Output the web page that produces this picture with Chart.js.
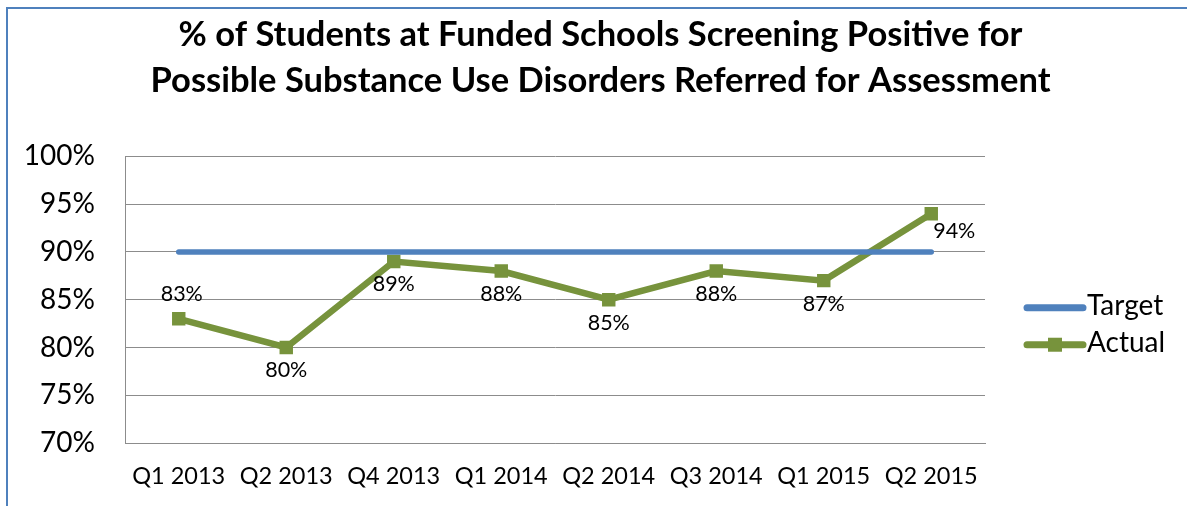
<!DOCTYPE html>
<html>
<head>
<meta charset="utf-8">
<script src="https://cdn.jsdelivr.net/npm/chart.js@4.4.1/dist/chart.umd.min.js"></script>
<style>
  html, body { margin: 0; padding: 0; background: #fff; overflow: hidden; }
  #frame { position: absolute; left: 6px; top: 7px; width: 1300px; height: 600px;
           border-top: 2px solid #4f81bd; border-left: 2px solid #4f81bd; }
  #chart { position: absolute; left: 0; top: 0; }
</style>
</head>
<body>
<div id="frame"></div>
<canvas id="chart" width="1187" height="506"></canvas>
<script>
// chart data
const categories = ["Q1 2013", "Q2 2013", "Q4 2013", "Q1 2014", "Q2 2014", "Q3 2014", "Q1 2015", "Q2 2015"];
const targetValues = [90, 90, 90, 90, 90, 90, 90, 90];
const actualValues = [83, 80, 89, 88, 85, 88, 87, 94];
const yMin = 70, yMax = 100, yStep = 5;
const titleLines = ["% of Students at Funded Schools Screening Positive for",
                    "Possible Substance Use Disorders Referred for Assessment"];
// where each data label sits relative to its point
const labelPlace = ["above", "below", "below", "below", "below", "below", "below", "belowRight"];

const targetColor = "#4f81bd";
const actualColor = "#77933c";
const gridColor = "#8c8c8c";
const FONT = "Lato";

/* draws the % labels next to the Actual points and the legend on the right */
const extras = {
    id: "extras",
    afterDatasetsDraw(chart) {
        const ctx = chart.ctx;
        const pts = chart.getDatasetMeta(1).data;
        ctx.save();
        ctx.font = "21.5px " + FONT;
        ctx.fillStyle = "#000";
        ctx.textAlign = "center";
        ctx.textBaseline = "middle";
        pts.forEach((p, i) => {
            let x = p.x, y = p.y;
            if (labelPlace[i] == "above") { y -= 25; x += 3; }
            else if (labelPlace[i] == "below") { y += 23; }
            else if (labelPlace[i] == "belowRight") { x += 23; y += 17; }
            ctx.fillText(actualValues[i] + "%", x, y);
        });
        ctx.restore();
    },
    afterDraw(chart) {
        const ctx = chart.ctx;
        const a = chart.chartArea;
        const mid = (a.top + a.bottom) / 2;
        const x0 = a.right + 42, x1 = x0 + 56;
        const items = [
            {text: "Target", color: targetColor, y: mid + 8, marker: false},
            {text: "Actual", color: actualColor, y: mid + 45, marker: true}
        ];
        ctx.save();
        ctx.lineCap = "round";
        ctx.font = "28px " + FONT;
        ctx.textBaseline = "middle";
        ctx.fillStyle = "#000";
        items.forEach(it => {
            ctx.strokeStyle = it.color;
            ctx.lineWidth = 7;
            ctx.beginPath();
            ctx.moveTo(x0, it.y);
            ctx.lineTo(x1, it.y);
            ctx.stroke();
            if (it.marker) {
                ctx.fillStyle = it.color;
                ctx.fillRect((x0 + x1) / 2 - 7, it.y - 7, 14, 14);
                ctx.fillStyle = "#000";
            }
            ctx.fillText(it.text, x1 + 4, it.y - 2);
        });
        ctx.restore();
    }
};

const ctx = document.getElementById("chart").getContext("2d");
const chart = new Chart(ctx, {
    type: "line",
    data: {
        labels: categories,
        datasets: [{
            label: "Target",
            data: targetValues,
            borderColor: targetColor,
            backgroundColor: targetColor,
            borderWidth: 5.5,
            borderCapStyle: "round",
            pointRadius: 0,
            tension: 0
        },
        {
            label: "Actual",
            data: actualValues,
            borderColor: actualColor,
            backgroundColor: actualColor,
            borderWidth: 6.5,
            pointStyle: "rect",
            pointRadius: 9.5,
            pointBorderWidth: 0,
            tension: 0
        }]
    },
    options: {
        responsive: false,
        animation: false,
        devicePixelRatio: 1,
        layout: { padding: { left: 14, right: 0, top: 0, bottom: 0 } },
        scales: {
            x: {
                offset: true,
                grid: { display: false, drawTicks: false },
                border: { display: true, color: gridColor, width: 1 },
                ticks: {
                    color: "#000",
                    font: { family: FONT, size: 23.5 },
                    padding: 19,
                    maxRotation: 0,
                    autoSkip: false
                },
                afterFit: (s) => { s.height = 63; }
            },
            y: {
                min: yMin,
                max: yMax,
                grid: { color: gridColor, lineWidth: 1, drawTicks: false },
                border: { display: true, color: gridColor, width: 1 },
                ticks: {
                    stepSize: yStep,
                    color: "#000",
                    font: { family: FONT, size: 28 },
                    padding: 30,
                    callback: (v) => v + "%"
                },
                afterFit: (s) => { s.width = 111; }
            },
            // empty axis that only keeps room for the legend on the right
            legendSpace: {
                position: "right",
                grid: { display: false, drawTicks: false },
                border: { display: false },
                ticks: { display: false },
                afterFit: (s) => { s.width = 202; }
            }
        },
        plugins: {
            legend: { display: false },
            tooltip: { enabled: false },
            title: {
                display: true,
                text: titleLines,
                color: "#000",
                font: { family: FONT, size: 34.5, weight: "bold", lineHeight: 1.34 },
                padding: { top: 12, bottom: 52 }
            }
        }
    },
    plugins: [extras]
});
</script>
</body>
</html>
